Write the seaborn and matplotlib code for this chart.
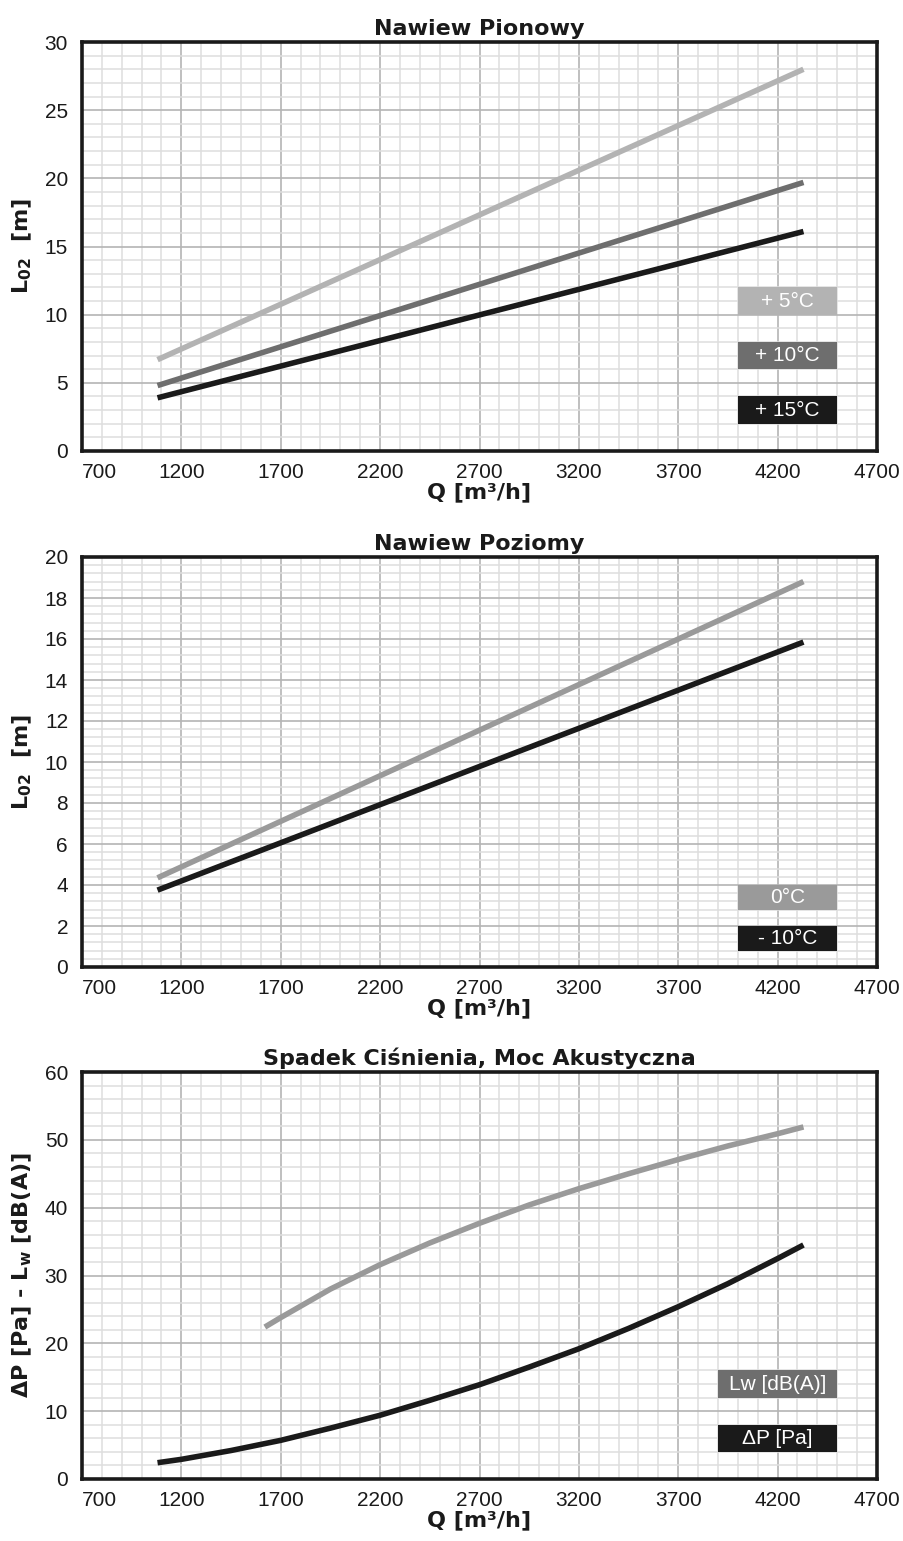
import matplotlib
matplotlib.use("Agg")
import matplotlib.pyplot as plt
import seaborn as sns
import pandas as pd
from matplotlib.patches import Rectangle
from matplotlib.ticker import MultipleLocator

# ---------------- data ----------------
q_line = [1080, 4330]
pion_5 = [6.7, 28.0]
pion_10 = [4.8, 19.7]
pion_15 = [3.9, 16.1]

poz_0 = [4.35, 18.8]
poz_m10 = [3.75, 15.85]

q_dp = [1080, 1200, 1450, 1700, 1950, 2200, 2450, 2700, 2950, 3200, 3450, 3700, 3950, 4200, 4330]
dp = [2.4, 2.9, 4.2, 5.7, 7.5, 9.4, 11.6, 13.9, 16.5, 19.2, 22.2, 25.4, 28.8, 32.5, 34.5]
q_lw = [1620, 1700, 1950, 2200, 2450, 2700, 2950, 3200, 3450, 3700, 3950, 4200, 4330]
lw = [22.4, 23.8, 28.0, 31.6, 34.8, 37.7, 40.4, 42.8, 45.0, 47.1, 49.1, 50.9, 51.9]

x_ticks = [700, 1200, 1700, 2200, 2700, 3200, 3700, 4200, 4700]

titles = ["Nawiew Pionowy", "Nawiew Poziomy", "Spadek Ciśnienia, Moc Akustyczna"]
ylabels = [r"L$_{\mathregular{02}}$  [m]", r"L$_{\mathregular{02}}$  [m]",
           r"ΔP [Pa] - L$_{\mathregular{w}}$ [dB(A)]"]
xlabel = "Q [m³/h]"

# ---------------- style ----------------
sns.set_style("white")
plt.rcParams["font.family"] = ["Liberation Sans", "DejaVu Sans"]
plt.rcParams["mathtext.default"] = "regular"

BOLD = dict(family="DejaVu Sans", fontweight="bold", fontsize=16, color="#1a1a1a")
C_LIGHT = "#b3b3b3"
C_MID = "#6e6e6e"
C_MID2 = "#9a9a9a"
C_DARK = "#1a1a1a"

fig = plt.figure(figsize=(9.04, 15.41), dpi=100)
W, H = 904.0, 1541.0
L, R = 82, 877
boxes_px = [(42, 451), (557, 967), (1072, 1479)]
axes = [fig.add_axes([L / W, 1 - b / H, (R - L) / W, (b - t) / H]) for t, b in boxes_px]

ylims = [(0, 30), (0, 20), (0, 60)]
ymaj = [5, 2, 10]
ymin = [1, 0.4, 2]

def style_axis(ax, i):
    ax.set_xlim(700, 4700)
    ax.set_ylim(*ylims[i])
    ax.set_xticks(x_ticks)
    ax.xaxis.set_minor_locator(MultipleLocator(100))
    ax.yaxis.set_major_locator(MultipleLocator(ymaj[i]))
    ax.yaxis.set_minor_locator(MultipleLocator(ymin[i]))
    ax.grid(which="minor", color="#dedede", linewidth=1.1, zorder=0)
    ax.grid(which="major", color="#b4b4b4", linewidth=1.2, zorder=0)
    ax.set_axisbelow(True)
    for s in ax.spines.values():
        s.set_color(C_DARK)
        s.set_linewidth(2.6)
        s.set_visible(True)
    ax.tick_params(which="both", length=0)
    ax.tick_params(axis="x", pad=9, labelsize=15, labelcolor="#1a1a1a")
    ax.tick_params(axis="y", pad=10, labelsize=15, labelcolor="#1a1a1a")
    ax.set_title(titles[i], pad=5, **BOLD)
    ax.set_xlabel(xlabel, labelpad=0, **BOLD)
    ax.set_ylabel(ylabels[i], labelpad=8, **BOLD)
    labs = ax.get_xticklabels()
    labs[0].set_horizontalalignment("left")

def legend_box(ax, x0, x1, y0, y1, color, text):
    ax.add_patch(Rectangle((x0, y0), x1 - x0, y1 - y0, facecolor=color,
                           edgecolor="none", zorder=3))
    ax.text((x0 + x1) / 2, (y0 + y1) / 2, text, color="white", fontsize=15,
            ha="center", va="center", zorder=4, family="Liberation Sans")

LWD = 4.0

# ---- chart 1 ----
ax = axes[0]
for vals, c in [(pion_5, C_LIGHT), (pion_10, C_MID), (pion_15, C_DARK)]:
    sns.lineplot(x=q_line, y=vals, ax=ax, color=c, linewidth=LWD,
                 solid_capstyle="butt", zorder=5)
style_axis(ax, 0)
legend_box(ax, 4000, 4500, 10, 12, C_LIGHT, "+ 5°C")
legend_box(ax, 4000, 4500, 6, 8, C_MID, "+ 10°C")
legend_box(ax, 4000, 4500, 2, 4, C_DARK, "+ 15°C")

# ---- chart 2 ----
ax = axes[1]
for vals, c in [(poz_0, C_MID2), (poz_m10, C_DARK)]:
    sns.lineplot(x=q_line, y=vals, ax=ax, color=c, linewidth=LWD,
                 solid_capstyle="butt", zorder=5)
style_axis(ax, 1)
legend_box(ax, 4000, 4500, 2.8, 4.0, C_MID2, "0°C")
legend_box(ax, 4000, 4500, 0.8, 2.0, C_DARK, "- 10°C")

# ---- chart 3 ----
ax = axes[2]
sns.lineplot(x=q_lw, y=lw, ax=ax, color=C_MID2, linewidth=LWD,
             solid_capstyle="butt", zorder=5)
sns.lineplot(x=q_dp, y=dp, ax=ax, color=C_DARK, linewidth=LWD,
             solid_capstyle="butt", zorder=5)
style_axis(ax, 2)
legend_box(ax, 3900, 4500, 12, 16, C_MID, "Lw [dB(A)]")
legend_box(ax, 3900, 4500, 4, 8, C_DARK, "ΔP [Pa]")

fig.savefig("out.png", dpi=100, facecolor="white")
